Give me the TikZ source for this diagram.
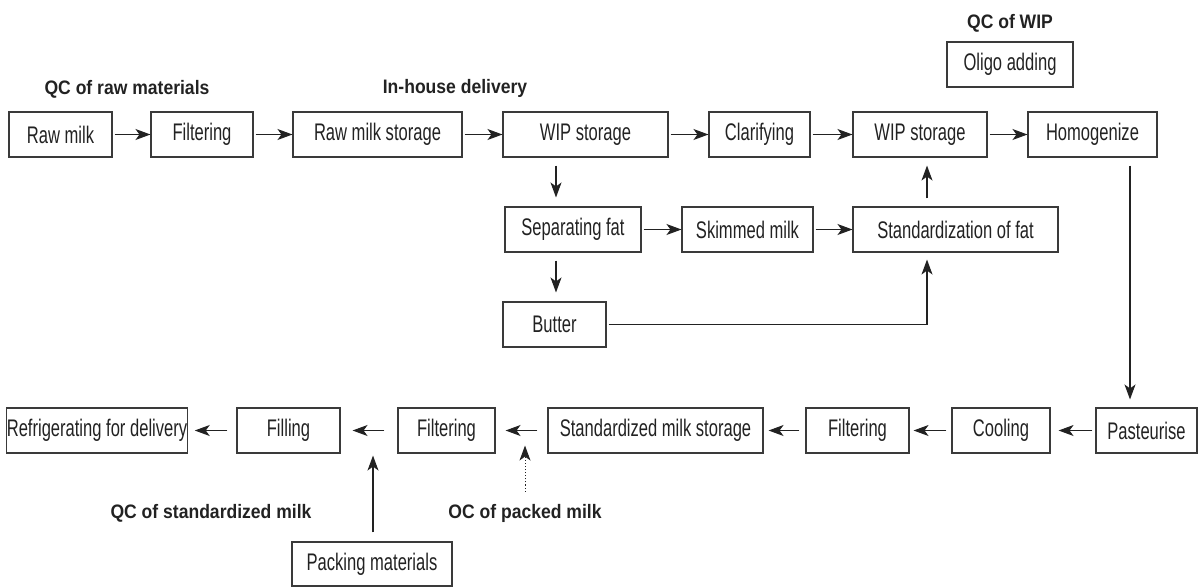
\documentclass[tikz,border=0pt]{standalone}
\usepackage{fontspec}
\usetikzlibrary{arrows.meta,calc}
\newfontfamily\stepfont{Liberation Sans}[FakeStretch=0.69]
\newfontfamily\qcfont{Liberation Sans}[FakeStretch=0.9]
\definecolor{ink}{HTML}{222222}
\definecolor{frame}{HTML}{3A3A3A}
\tikzset{
  x=1pt, y=-1pt,
  procbox/.style={draw=frame, line width=1.1pt, minimum height=45pt, inner sep=0pt,
    text=ink, font=\stepfont\fontsize{24}{26}\selectfont},
  qclabel/.style={text=ink, font=\qcfont\bfseries\fontsize{19.5}{22}\selectfont, inner sep=0pt},
  flow/.style={draw=ink, line width=1.1pt, -{Stealth[length=15pt,width=11pt,inset=4pt]}},
  dotflow/.style={flow, dotted, line width=1pt}
}
\begin{document}
\begin{tikzpicture}
\useasboundingbox (0,0) rectangle (1200,587);

% top row
\node[procbox, minimum width=103pt] (rawmilk) at (60.5,134.5) {Raw milk};
\node[procbox, minimum width=102pt] (filt1) at (202,134.5) {Filtering};
\node[procbox, minimum width=169pt] (rms) at (377.5,134.5) {Raw milk storage};
\node[procbox, minimum width=165pt] (wip1) at (585.5,134.5) {WIP storage};
\node[procbox, minimum width=101pt] (clar) at (759.5,134.5) {Clarifying};
\node[procbox, minimum width=134pt] (wip2) at (920,134.5) {WIP storage};
\node[procbox, minimum width=129pt] (homog) at (1092.5,134.5) {Homogenize};
\node[procbox, minimum width=126pt] (oligo) at (1010,64.5) {Oligo adding};

% fat branch
\node[procbox, minimum width=136pt] (sep) at (573,229.5) {Separating fat};
\node[procbox, minimum width=131pt] (skim) at (747.5,229.5) {Skimmed milk};
\node[procbox, minimum width=205pt] (stdfat) at (955.5,229.5) {Standardization of fat};
\node[procbox, minimum width=103pt] (butter) at (554.5,324.5) {Butter};

% bottom row
\node[procbox, minimum width=178pt] (refr) at (97,430.5) {Refrigerating for delivery};
\node[procbox, minimum width=103pt] (fill) at (288.5,430.5) {Filling};
\node[procbox, minimum width=97pt] (filt3) at (446.5,430.5) {Filtering};
\node[procbox, minimum width=215pt] (stdst) at (655.5,430.5) {Standardized milk storage};
\node[procbox, minimum width=103pt] (filt4) at (857.5,430.5) {Filtering};
\node[procbox, minimum width=98pt] (cool) at (1001,430.5) {Cooling};
\node[procbox, minimum width=101pt] (past) at (1146.5,430.5) {Pasteurise};
\node[procbox, minimum width=160pt, minimum height=44pt] (pack) at (372,564) {Packing materials};

% quality-control labels
\node[qclabel] (qcraw) at (127,89) {QC of raw materials};
\node[qclabel] (inhouse) at (455,88) {In-house delivery};
\node[qclabel] (qcwip) at (1010,23) {QC of WIP};
\node[qclabel] (qcstd) at (211,513) {QC of standardized milk};
\node[qclabel] (ocpack) at (525,513) {OC of packed milk};

% helper coordinates for vertical connectors
\coordinate (xsep) at (556,0);
\coordinate (xstd) at (927,0);
\coordinate (xhom) at (1130,0);
\coordinate (xpack) at (373,0);
\coordinate (xoc) at (525,0);

% top row flow
\draw[flow] ([xshift=2pt]rawmilk.east) -- (filt1.west);
\draw[flow] ([xshift=2pt]filt1.east) -- (rms.west);
\draw[flow] ([xshift=2pt]rms.east) -- (wip1.west);
\draw[flow] ([xshift=2pt]wip1.east) -- (clar.west);
\draw[flow] ([xshift=2pt]clar.east) -- (wip2.west);
\draw[flow] ([xshift=2pt]wip2.east) -- (homog.west);

% fat branch flow
\draw[flow] ([yshift=-8pt]wip1.south -| xsep) -- ([yshift=9pt]sep.north -| xsep);
\draw[flow] ([xshift=2pt]sep.east) -- (skim.west);
\draw[flow] ([xshift=2pt]skim.east) -- (stdfat.west);
\draw[flow] ([yshift=-8pt]sep.south -| xsep) -- ([yshift=9pt]butter.north -| xsep);
\draw[flow] ([xshift=2pt]butter.east) -| ([yshift=-7pt]stdfat.south -| xstd);
\draw[flow] ([yshift=8pt]stdfat.north -| xstd) -- ([yshift=-8pt]wip2.south -| xstd);

% down to pasteurising
\draw[flow] ([yshift=-8pt]homog.south -| xhom) -- ([yshift=8pt]past.north -| xhom);

% bottom row flow
\draw[flow] ([xshift=-3pt]past.west) -- ([xshift=8pt]cool.east);
\draw[flow] ([xshift=-5pt]cool.west) -- ([xshift=4pt]filt4.east);
\draw[flow] ([xshift=-6pt]filt4.west) -- ([xshift=5pt]stdst.east);
\draw[flow] ([xshift=-10pt]stdst.west) -- ([xshift=10pt]filt3.east);
\draw[flow] ([xshift=-13pt]filt3.west) -- ([xshift=12pt]fill.east);
\draw[flow] ([xshift=-9pt]fill.west) -- ([xshift=7pt]refr.east);

% packing materials and packed-milk check
\draw[flow] ([yshift=9pt]pack.north -| xpack) -- ([yshift=-2pt]fill.south -| xpack);
\draw[dotflow] ([yshift=12pt]ocpack.north) -- ([yshift=8pt]filt3.south -| xoc);
\end{tikzpicture}
\end{document}
